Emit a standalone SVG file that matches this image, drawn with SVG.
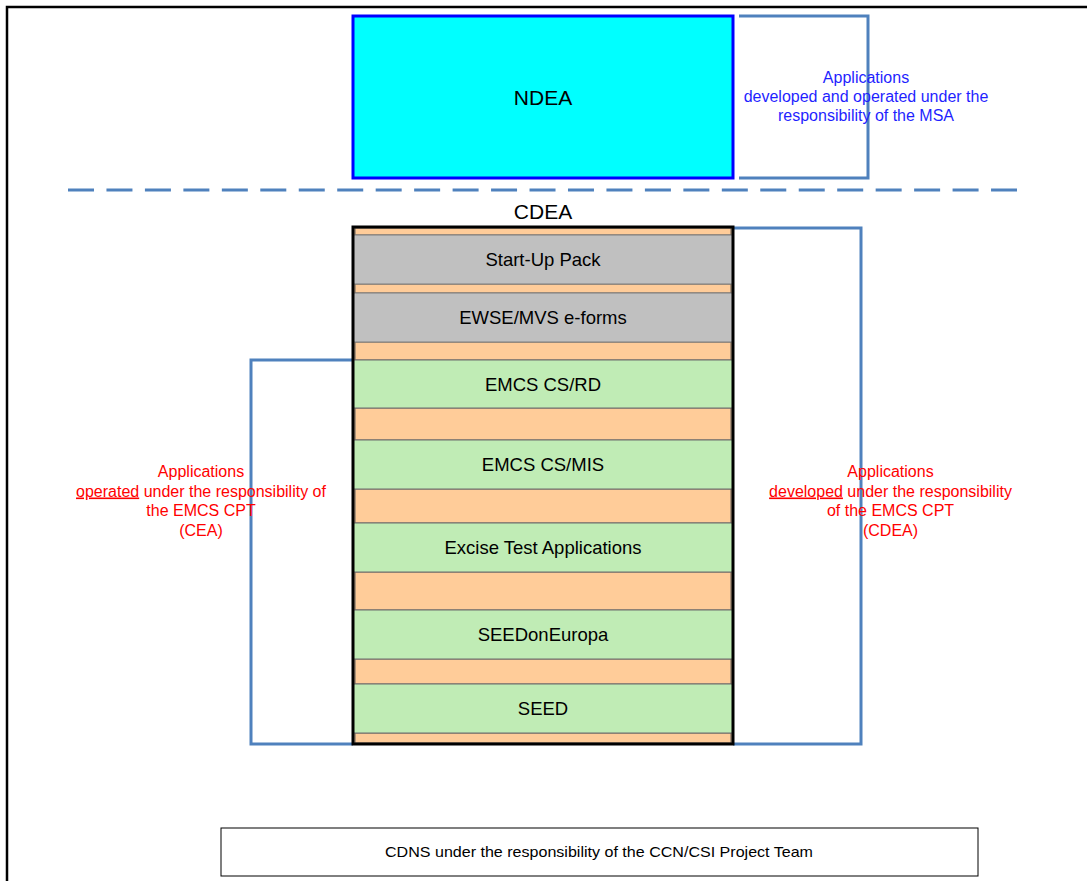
<svg xmlns="http://www.w3.org/2000/svg" width="1087" height="881" viewBox="0 0 1087 881">
<style>
.lbl{font-family:"Liberation Sans",Arial,sans-serif;fill:#000;text-anchor:middle}
.row{font-size:18.5px}
.red{font-family:"Liberation Sans",Arial,sans-serif;font-size:16px;fill:#FF0000;text-anchor:middle}
.blue{font-family:"Liberation Sans",Arial,sans-serif;font-size:16px;fill:#1F1FFF;text-anchor:middle}
.gray{fill:#C0C0C0;stroke:#7F7F7F;stroke-width:1}
.green{fill:#C0ECB5;stroke:#6F6F6F;stroke-width:1}
.orange{fill:#FFCC99;stroke:#5F5F5F;stroke-width:1}
.bracket{fill:none;stroke:#4F81BD;stroke-width:3}
</style>
<rect width="1087" height="881" fill="#FFFFFF"/>
<g id="frame">
<path d="M7,881 V7 H1087" fill="none" stroke="#000" stroke-width="2.5"/>
</g>
<g id="connectors">
<path class="bracket" d="M739,16 H868 V178 H739" stroke-width="2.5"/>
<line x1="68" y1="190" x2="1017" y2="190" stroke="#4F81BD" stroke-width="3" stroke-dasharray="26,12.46"/>
<path class="bracket" d="M353,360 H251 V744 H353"/>
<path class="bracket" d="M733,228 H861 V744 H733"/>
</g>
<g id="ndea">
<rect x="353" y="16" width="380" height="162" fill="#00FFFF" stroke="#0000FF" stroke-width="3"/>
<text class="lbl" x="543" y="105" font-size="21">NDEA</text>
</g>
<g id="msa-note">
<text class="blue" x="866" y="83">Applications</text>
<text class="blue" x="866" y="102">developed and operated under the</text>
<text class="blue" x="866" y="121">responsibility of the MSA</text>
</g>
<g id="cdea-title">
<text class="lbl" x="543" y="219" font-size="21">CDEA</text>
</g>
<g id="cdea-stack">
<rect x="353" y="227" width="380" height="517" fill="#FFCC99" stroke="none"/>
<rect class="orange" x="355" y="228" width="376" height="7"/>
<rect class="orange" x="355" y="284" width="376" height="9"/>
<rect class="orange" x="355" y="342" width="376" height="18"/>
<rect class="orange" x="355" y="408" width="376" height="32"/>
<rect class="orange" x="355" y="489" width="376" height="34"/>
<rect class="orange" x="355" y="572" width="376" height="38"/>
<rect class="orange" x="355" y="659" width="376" height="25"/>
<rect class="orange" x="355" y="733" width="376" height="10"/>
</g>
<g id="startup">
<rect class="gray" x="353" y="235" width="380" height="49"/>
<text class="lbl row" x="543" y="266">Start-Up Pack</text>
</g>
<g id="ewse">
<rect class="gray" x="353" y="293" width="380" height="49"/>
<text class="lbl row" x="543" y="324">EWSE/MVS e-forms</text>
</g>
<g id="emcs-rd">
<rect class="green" x="353" y="360" width="380" height="48"/>
<text class="lbl row" x="543" y="390.5">EMCS CS/RD</text>
</g>
<g id="emcs-mis">
<rect class="green" x="353" y="440" width="380" height="49"/>
<text class="lbl row" x="543" y="471">EMCS CS/MIS</text>
</g>
<g id="excise">
<rect class="green" x="353" y="523" width="380" height="49"/>
<text class="lbl row" x="543" y="554">Excise Test Applications</text>
</g>
<g id="seedoneuropa">
<rect class="green" x="353" y="610" width="380" height="49"/>
<text class="lbl row" x="543" y="641">SEEDonEuropa</text>
</g>
<g id="seed">
<rect class="green" x="353" y="684" width="380" height="49"/>
<text class="lbl row" x="543" y="715">SEED</text>
</g>
<g id="cdea-border">
<rect x="353" y="227" width="380" height="517" fill="none" stroke="#000" stroke-width="3"/>
</g>
<g id="cea-note">
<text class="red" x="201" y="477">Applications</text>
<text class="red" x="201" y="496.5"><tspan text-decoration="underline">operated</tspan> under the responsibility of</text>
<text class="red" x="201" y="516">the EMCS CPT</text>
<text class="red" x="201" y="535.5">(CEA)</text>
</g>
<g id="cdea-note">
<text class="red" x="890.5" y="477">Applications</text>
<text class="red" x="890.5" y="496.5"><tspan text-decoration="underline">developed</tspan> under the responsibility</text>
<text class="red" x="890.5" y="516">of the EMCS CPT</text>
<text class="red" x="890.5" y="535.5">(CDEA)</text>
</g>
<g id="cdns">
<rect x="221" y="828" width="757" height="48" fill="#FFFFFF" stroke="#000" stroke-width="1"/>
<text class="lbl" x="599" y="857" font-size="15" textLength="428" lengthAdjust="spacingAndGlyphs">CDNS under the responsibility of the CCN/CSI Project Team</text>
</g>
</svg>
